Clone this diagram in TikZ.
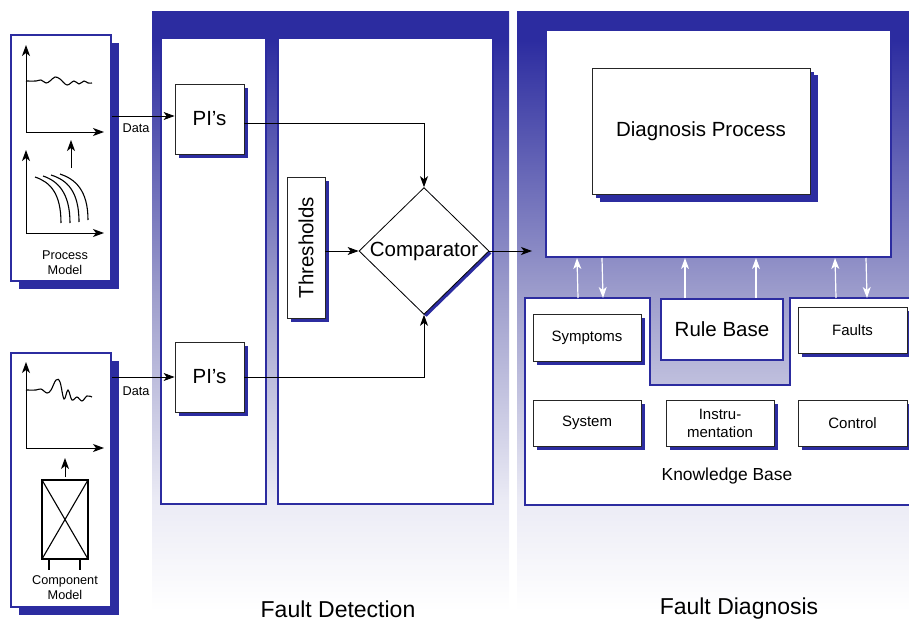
\documentclass[tikz,border=0pt]{standalone}
\usepackage{fontspec}
\setmainfont{Liberation Sans}
\usepackage{graphicx}
\usetikzlibrary{shapes.geometric,shadows,arrows.meta,calc}
\definecolor{dkblue}{RGB}{44,44,160}
\definecolor{midblue}{RGB}{160,160,205}
\definecolor{lowblue}{RGB}{235,235,245}
\pgfdeclareverticalshading{panelshade}{100bp}{color(0bp)=(white); color(26bp)=(white); color(35bp)=(lowblue); color(51.4bp)=(midblue); color(72.7bp)=(dkblue); color(100bp)=(dkblue)}
\newcommand{\fsz}[1]{\fontsize{#1}{#1}\selectfont}
\tikzset{
  panel/.style={shading=panelshade, draw=none},
  wpanel/.style={draw=dkblue, line width=1.6pt, fill=white, inner sep=0pt},
  modelbox/.style={draw=dkblue, line width=2pt, fill=white, inner sep=0pt,
    drop shadow={shadow xshift=8pt, shadow yshift=-8pt, fill=dkblue, opacity=1}},
  sbox/.style={draw=black!85, line width=0.8pt, fill=white, inner sep=0pt,
    drop shadow={shadow xshift=3.5pt, shadow yshift=-4pt, fill=dkblue, opacity=1}},
  bigbox/.style={sbox, drop shadow={shadow xshift=7.5pt, shadow yshift=-7.5pt, fill=dkblue, opacity=1}},
  arr/.style={-{Stealth[length=11pt,width=8pt,inset=3pt]}, line width=0.9pt},
  warr/.style={-{Stealth[length=11pt,width=8pt,inset=3pt]}, draw=white, line width=1.2pt},
  axis/.style={-{Stealth[length=11pt,width=8pt,inset=3pt]}, line width=1pt},
  curve/.style={line width=1.1pt},
  bigtxt/.style={font=\fsz{20.5}},
  midtxt/.style={font=\fsz{15}},
  smalltxt/.style={font=\fsz{12.7}},
}
\begin{document}
\begin{tikzpicture}[x=1pt,y=-1pt]
\useasboundingbox (0,0) rectangle (909,623);
% background panels
\shade[panel] (152,12) rectangle (509,623);
\shade[panel] (517,12) rectangle (915,623);

% Fault Detection inner panels
\node[wpanel, minimum width=105pt, minimum height=466pt] (fd1) at (213.5,271) {};
\node[wpanel, minimum width=215pt, minimum height=466pt] (fd2) at (385.5,271) {};

% Fault Diagnosis top panel
\node[wpanel, line width=2pt, minimum width=345pt, minimum height=227pt] (dpan) at (718.5,143.5) {};
\node[bigbox, bigtxt, minimum width=218pt, minimum height=126pt] (dp) at (701,131) {Diagnosis Process};

% Knowledge base outline
\coordinate (kbnw) at (525,298);
\draw[draw=dkblue, line width=2pt, fill=white] (kbnw) -- (650,298) -- (650,385) -- (790,385) -- (790,298)
  -- (915,298) -- (915,505) -- (525,505) -- cycle;
\node[draw=dkblue, line width=2pt, fill=white, bigtxt, minimum width=122pt, minimum height=61pt] (rb) at (722,329.5) {Rule Base};
\node[sbox, midtxt, minimum width=108pt, minimum height=47pt] (sym) at (587,337.5) {Symptoms};
\node[sbox, midtxt, minimum width=109pt, minimum height=46pt] (flt) at (852.5,330) {Faults};
\node[sbox, midtxt, minimum width=108pt, minimum height=46pt] (sys) at (587,423) {System};
\node[sbox, font=\fontsize{15}{18}\selectfont, align=center, minimum width=108pt, minimum height=46pt] (ins) at (720,423) {Instru-\\mentation};
\node[sbox, midtxt, minimum width=109pt, minimum height=46pt] (ctl) at (852.5,423) {Control};
\node[font=\fsz{17.4}] (kbl) at (727,476) {Knowledge Base};

% white arrows between diagnosis process panel and knowledge base
\draw[warr] ($(kbnw)+(53,0)$) -- ($(dpan.south west)+(32,0)$);
\draw[warr] ($(dpan.south west)+(57,0)$) -- ($(kbnw)+(78,0)$);
\draw[warr] ($(rb.north west)+(25,0)$) -- ($(dpan.south west)+(140,0)$);
\draw[warr] ($(rb.north west)+(96,0)$) -- ($(dpan.south west)+(211,0)$);
\draw[warr] ($(kbnw)+(311,0)$) -- ($(dpan.south west)+(290,0)$);
\draw[warr] ($(dpan.south west)+(321,0)$) -- ($(kbnw)+(342,0)$);

% Fault detection content
\node[sbox, bigtxt, minimum width=69pt, minimum height=70pt] (pi1) at (209.5,119) {PI’s};
\node[sbox, bigtxt, minimum width=69pt, minimum height=70pt] (pi2) at (209.5,377) {PI’s};
\node[sbox, minimum width=38pt, minimum height=141pt] (thr) at (306,247.5) {\rotatebox{90}{\fsz{20.5}Thresholds}};
\node[diamond, draw=black, line width=0.8pt, fill=white, inner sep=0pt, bigtxt,
  minimum width=130pt, minimum height=126pt,
  drop shadow={shadow xshift=2.5pt, shadow yshift=-2.5pt, fill=dkblue, opacity=1}] (cmp) at (424,251) {Comparator};

\coordinate (o1) at ($(pi1.east)+(0,4)$);
\draw[arr] (o1) -| (cmp.north);
\draw[arr] (pi2.east) -| (cmp.south);
\draw[arr] (thr.east |- cmp.west) -- (cmp.west);
\draw[arr, shorten >=13pt] (cmp.east) -- (cmp.east -| dpan.west);

% Process model
\node[modelbox, minimum width=100pt, minimum height=246pt] (pm) at (61,158) {};
\draw[axis] (26,132) -- (26,45);
\draw[axis] (26,132) -- (104,132);
\draw[curve] plot[smooth, tension=0.6] coordinates {(26,81) (36,81) (41,80) (46,83) (50,81) (55,77) (60,79) (67,85) (74,81) (79,84) (84,81) (88,83) (92,83)};
\draw[axis] (71,168) -- (71,140);
\draw[axis] (26,233) -- (26,150);
\draw[axis] (26,233) -- (104,233);
\draw[curve] (35,177) .. controls (50,182) and (61,193) .. (61,223);
\draw[curve] (43,176) .. controls (58,181) and (70,193) .. (70,223);
\draw[curve] (51,175) .. controls (67,180) and (79,191) .. (79,222);
\draw[curve] (60,174) .. controls (75,179) and (88,190) .. (88,220);
\node[font=\fontsize{12.7}{15}\selectfont, align=center] (pml) at (65,262.5) {Process\\Model};

% Component model
\node[modelbox, minimum width=100pt, minimum height=254pt] (cm) at (61,480) {};
\draw[axis] (26,448) -- (26,362);
\draw[axis] (26,448) -- (104,448);
\draw[curve] plot[smooth, tension=0.6] coordinates {(26,390) (36,390) (41,389) (47,393) (51,390) (56,380) (60,382) (64,399) (68,390) (72,400) (77,397) (82,401) (87,396) (92,397)};
\draw[axis] (65,477) -- (65,458);
\draw[curve] (42,480) rectangle (88,559);
\draw[curve] (42,480) -- (88,559);
\draw[curve] (88,480) -- (42,559);
\draw[curve] (49,559) -- (49,570);
\draw[curve] (80,559) -- (80,570);
\node[font=\fontsize{12.7}{15}\selectfont, align=center] (cml) at (65,587.5) {Component\\Model};

% Data arrows
\coordinate (d1) at ($(pi1.west)+(0,-3)$);
\draw[arr] (pm.east |- d1) -- (d1);
\node[smalltxt] (dl1) at (136,128) {Data};
\draw[arr] (cm.east |- pi2.west) -- (pi2.west);
\node[smalltxt] (dl2) at (136,391) {Data};

% titles
\node[font=\fsz{23}] (t1) at (338,609) {Fault Detection};
\node[font=\fsz{23}] (t2) at (739,609) {Fault Diagnosis};
\end{tikzpicture}
\end{document}
